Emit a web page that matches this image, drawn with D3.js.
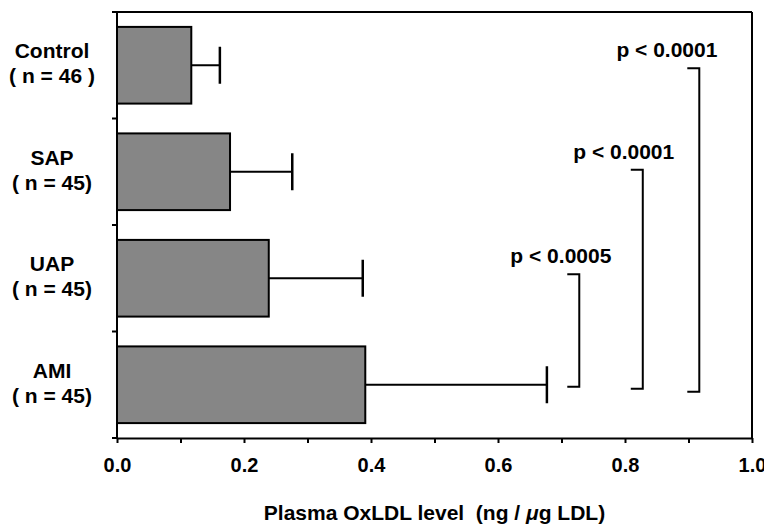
<!DOCTYPE html>
<html>
<head>
<meta charset="utf-8">
<script src="https://cdn.jsdelivr.net/npm/d3@7"></script>
<style>
  body { margin: 0; background: #ffffff; }
  svg text { font-family: "Liberation Sans", Arial, sans-serif; font-weight: bold; fill: #000; }
</style>
</head>
<body>
<div id="chart"></div>
<script>
// data
const groups = ["Control", "SAP", "UAP", "AMI"];
const groupN = ["( n = 46 )", "( n = 45)", "( n = 45)", "( n = 45)"];
const means = [0.117, 0.178, 0.239, 0.391];
const sds = [0.045, 0.098, 0.148, 0.286];

const xTicks = [0, 0.1, 0.2, 0.3, 0.4, 0.5, 0.6, 0.7, 0.8, 0.9, 1.0];
const xTickLabels = ["0.0", "", "0.2", "", "0.4", "", "0.6", "", "0.8", "", "1.0"];

const compFrom = ["UAP", "SAP", "Control"];
const compTo = ["AMI", "AMI", "AMI"];
const compLabels = ["p < 0.0005", "p < 0.0001", "p < 0.0001"];

const xTitle = "Plasma OxLDL level  (ng / ";

// colours
const barGrey = "#868686";
const ink = "#000000";

// layout
const W = 764, H = 525;
const mLeft = 117, mRight = 752, mTop = 12, mBottom = 438;
const fontSize = 21;

// bracket placement (layout only)
const bracketX = [0.728, 0.828, 0.917];
const bracketTopOff = [-4, -2, 3];
const bracketBotOff = [2, 4, 7];
const labelX = [0.699, 0.798, 0.866];

const svg = d3.select("#chart")
    .append("svg")
    .attr("width", W)
    .attr("height", H);

const x = d3.scaleLinear().domain([0, 1]).range([mLeft, mRight]);
const y = d3.scaleBand().domain(groups).range([mTop, mBottom])
    .paddingInner(0.28).paddingOuter(0.14);
const yc = g => y(g) + y.bandwidth() / 2;

// bars
svg.append("g").selectAll("rect")
    .data(groups)
    .enter().append("rect")
    .attr("x", x(0))
    .attr("y", d => y(d))
    .attr("width", (d, i) => x(means[i]) - x(0))
    .attr("height", y.bandwidth())
    .attr("fill", barGrey)
    .attr("stroke", ink)
    .attr("stroke-width", 2);

// error bars (one-sided)
const err = svg.append("g");
groups.forEach(function (g, i) {
    err.append("line")
        .attr("x1", x(means[i])).attr("x2", x(means[i] + sds[i]))
        .attr("y1", yc(g)).attr("y2", yc(g))
        .attr("stroke", ink).attr("stroke-width", 2);
    err.append("line")
        .attr("x1", x(means[i] + sds[i])).attr("x2", x(means[i] + sds[i]))
        .attr("y1", yc(g) - 18.5).attr("y2", yc(g) + 18.5)
        .attr("stroke", ink).attr("stroke-width", 2.5);
});

// frame: top and right
svg.append("line")
    .attr("x1", mLeft).attr("x2", mRight).attr("y1", mTop).attr("y2", mTop)
    .attr("stroke", ink).attr("stroke-width", 2);
svg.append("line")
    .attr("x1", mRight).attr("x2", mRight).attr("y1", mTop).attr("y2", mBottom)
    .attr("stroke", ink).attr("stroke-width", 2);

// x axis
const xAxis = svg.append("g")
    .attr("transform", `translate(0, ${mBottom})`)
    .call(d3.axisBottom(x).tickValues(xTicks).tickSize(5).tickSizeOuter(0)
        .tickFormat((d, i) => xTickLabels[i]));
xAxis.select(".domain").attr("stroke-width", 2);
xAxis.selectAll(".tick line").attr("stroke-width", 2);
xAxis.selectAll(".tick text")
    .attr("y", 34).attr("dy", 0)
    .style("font-size", "20px")
    .style("font-family", "Liberation Sans, Arial, sans-serif")
    .style("font-weight", "bold")
    .attr("fill", ink);

// y axis: line with ticks at the band boundaries
svg.append("line")
    .attr("x1", mLeft).attr("x2", mLeft).attr("y1", mTop - 1).attr("y2", mBottom)
    .attr("stroke", ink).attr("stroke-width", 2);
const yBounds = [mTop].concat(groups.map(g => y(g) + y.bandwidth() + (y.step() - y.bandwidth()) / 2));
svg.append("g").selectAll("line")
    .data(yBounds)
    .enter().append("line")
    .attr("x1", mLeft - 5).attr("x2", mLeft)
    .attr("y1", d => d).attr("y2", d => d)
    .attr("stroke", ink).attr("stroke-width", 2);

// category labels
const catG = svg.append("g");
groups.forEach(function (g, i) {
    catG.append("text")
        .attr("x", 52).attr("y", yc(g) - 7)
        .attr("text-anchor", "middle")
        .style("font-size", fontSize + "px")
        .text(g);
    catG.append("text")
        .attr("x", 52).attr("y", yc(g) + 18)
        .attr("text-anchor", "middle")
        .style("font-size", fontSize + "px")
        .style("white-space", "pre")
        .text(groupN[i]);
});

// significance brackets
const br = svg.append("g");
compFrom.forEach(function (a, i) {
    const bx = x(bracketX[i]);
    const y1 = yc(a) + bracketTopOff[i];
    const y2 = yc(compTo[i]) + bracketBotOff[i];
    br.append("path")
        .attr("d", `M${bx - 12},${y1} H${bx} V${y2} H${bx - 12}`)
        .attr("fill", "none")
        .attr("stroke", ink)
        .attr("stroke-width", 2);
    br.append("text")
        .attr("x", x(labelX[i]))
        .attr("y", y1 - 11)
        .attr("text-anchor", "middle")
        .style("font-size", fontSize + "px")
        .text(compLabels[i]);
});

// axis title
const title = svg.append("text")
    .attr("x", (mLeft + mRight) / 2)
    .attr("y", 520)
    .attr("text-anchor", "middle")
    .style("font-size", fontSize + "px")
    .style("white-space", "pre");
title.append("tspan").text(xTitle);
title.append("tspan").style("font-style", "italic").text("\u03bc");
title.append("tspan").text("g LDL)");
</script>
</body>
</html>
